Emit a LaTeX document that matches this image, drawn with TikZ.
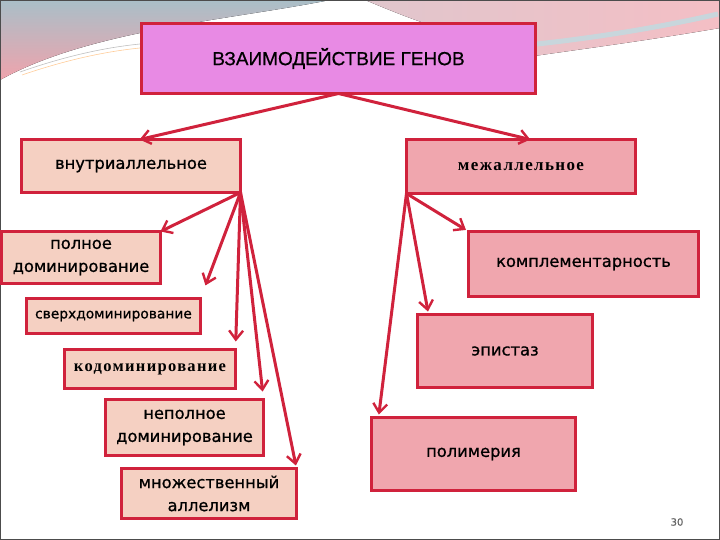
\documentclass[tikz,border=0pt]{standalone}
\usepackage{fontspec}
\setmainfont[FakeBold=0.8]{DejaVu Sans}
\newfontfamily\serifru[LetterSpace=8]{Liberation Serif Bold}
\newfontfamily\headru[FakeBold=0.6]{Liberation Sans}
\usetikzlibrary{arrows.meta,positioning}
\definecolor{rim}{HTML}{D0223C}
\definecolor{violetbox}{HTML}{E88AE4}
\definecolor{peach}{HTML}{F5D0C2}
\definecolor{rosebox}{HTML}{F0A6AE}
\definecolor{swblue}{HTML}{A9BFC8}
\definecolor{swpink}{HTML}{EFA3AC}

\begin{document}
\begin{tikzpicture}[x=1pt,y=-1pt, box/.style={draw=rim, line width=3pt, inner sep=0pt, outer sep=0pt, align=center, font=\fontsize{16.3}{23}\selectfont}, lbox/.style={box, fill=peach}, rbox/.style={box, fill=rosebox}, arr/.style={draw=rim, line width=3pt, -{Straight Barb[length=9pt,width=14pt,line width=2.4pt]}}]
\useasboundingbox (0,0) rectangle (720,540);
% background
\fill[top color=swblue, bottom color=swpink] (0,0) -- (330,0) .. controls (230,20) and (90,30) .. (0,80) -- cycle;
\fill[left color=swpink!60!swblue!70, right color=swpink!70] (365,0) -- (720,0) -- (720,28) .. controls (650,40) and (590,48) .. (520,58) -- (430,25) .. controls (400,15) and (380,6) .. (365,0) -- cycle;
\draw[cyan!25!gray!40, line width=5pt] (537,44) .. controls (610,36) and (670,25) .. (718,14);
\draw[gray!50, line width=0.6pt] (20,72) .. controls (60,58) and (100,48) .. (140,44);
\draw[orange!40, line width=0.6pt] (22,75) .. controls (60,62) and (100,52) .. (140,48);
\draw[gray!60!black, line width=1pt] (0.5,0.5) rectangle (719.5,539.5);
% top
\node[box, fill=violetbox, minimum width=394pt, minimum height=70pt, font=\headru\fontsize{19}{22}\selectfont] (genes) at (338.5,58.5) {ВЗАИМОДЕЙСТВИЕ ГЕНОВ};
% left
\node[lbox, minimum width=219pt, minimum height=53pt] (intra) at (131,166) {внутриаллельное};
\node[lbox, minimum width=159pt, minimum height=52pt] (full) at (81,257.5) {полное\\доминирование};
\node[lbox, minimum width=174pt, minimum height=35pt, font=\fontsize{13.8}{16}\selectfont] (over) at (113.5,316) {сверхдоминирование};
\node[lbox, minimum width=171pt, minimum height=39pt, font=\serifru\fontsize{16.5}{19}\selectfont] (codom) at (150,369) {кодоминирование};
\node[lbox, minimum width=158pt, minimum height=56pt] (incompl) at (184.5,427.5) {неполное\\доминирование};
\node[lbox, minimum width=175pt, minimum height=50pt] (multi) at (209,493.5) {множественный\\аллелизм};
% right
\node[rbox, minimum width=229pt, minimum height=54pt, font=\serifru\fontsize{17}{20}\selectfont] (inter) at (521,166.5) {межаллельное};
\node[rbox, minimum width=230pt, minimum height=65pt] (compl) at (583.5,264) {комплементарность};
\node[rbox, minimum width=175pt, minimum height=73pt] (epist) at (505,351) {эпистаз};
\node[rbox, minimum width=204pt, minimum height=73pt] (polym) at (473.5,454) {полимерия};
\node[text=gray!80!black, font=\fontsize{10}{11}\selectfont] (page) at (677,522) {30};
% arrows
\draw[arr] (genes.south) -- (intra.72);
\draw[arr] (genes.south) -- (inter.71);
\draw[arr] (intra.south east) -- (full.north east);
\draw[arr, shorten >=14pt] (intra.south east) -- (over.north east);
\draw[arr, shorten >=8pt] (intra.south east) -- (codom.north east);
\draw[arr, shorten >=8pt] (intra.south east) -- (incompl.north east);
\draw[arr, shorten >=3pt] (intra.south east) -- (multi.north east);
\draw[arr, shorten >=3pt] (inter.south west) -- (compl.north west);
\draw[arr, shorten >=3pt] (inter.south west) -- ([xshift=11pt]epist.north west);
\draw[arr, shorten >=3pt] (inter.south west) -- ([xshift=7pt]polym.north west);
\end{tikzpicture}
\end{document}
